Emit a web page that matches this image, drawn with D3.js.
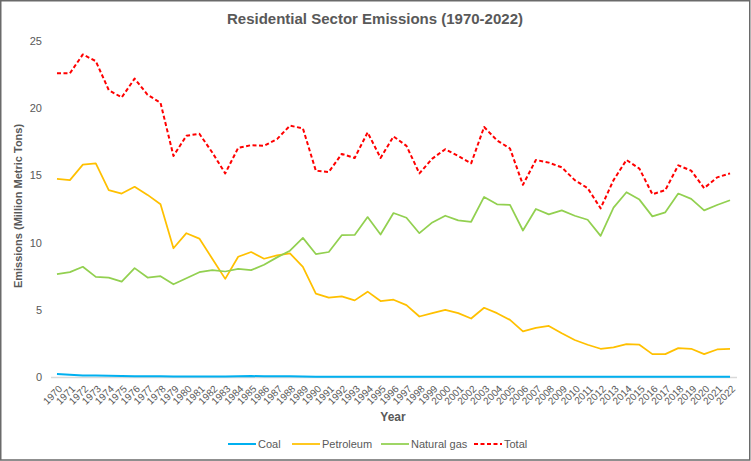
<!DOCTYPE html>
<html lang="en">
<head>
    <meta charset="UTF-8">
    <title>Residential Sector Emissions</title>
    <script src="https://d3js.org/d3.v7.min.js"></script>
    <style>
        body { margin: 0; background: #fff; }
        text { font-family: "Liberation Sans", Arial, Helvetica, sans-serif; fill: #595959; }
    </style>
</head>
<body>
<svg id="chart" width="751" height="461"></svg>
<script>
    const years = d3.range(1970, 2023);
    const coal = [0.22, 0.17, 0.12, 0.11, 0.09, 0.08, 0.06, 0.05, 0.05, 0.04, 0.04, 0.04, 0.04, 0.04, 0.05, 0.07, 0.05, 0.05, 0.05, 0.03,
        0.02, 0.02, 0.02, 0.02, 0.02, 0.02, 0.02, 0.02, 0.01, 0.01, 0.01, 0.01, 0.01, 0.01, 0.01, 0.01, 0.01, 0.01, 0.01, 0.01,
        0.01, 0.01, 0.01, 0.01, 0.01, 0.01, 0.01, 0.01, 0.01, 0.01, 0.01, 0.01, 0.01];
    const petroleum = [14.75, 14.65, 15.8, 15.9, 13.9, 13.65, 14.15, 13.55, 12.85, 9.58, 10.7, 10.3, 8.8, 7.3, 8.95, 9.3, 8.8, 9.05, 9.2, 8.2,
        6.2, 5.9, 6.0, 5.7, 6.35, 5.65, 5.75, 5.35, 4.5, 4.75, 5.0, 4.75, 4.35, 5.15, 4.75, 4.25, 3.4, 3.65, 3.8, 3.25,
        2.75, 2.4, 2.1, 2.2, 2.45, 2.4, 1.7, 1.7, 2.15, 2.1, 1.7, 2.05, 2.1];
    const naturalGas = [7.65, 7.8, 8.2, 7.45, 7.4, 7.1, 8.1, 7.4, 7.5, 6.9, 7.35, 7.8, 7.95, 7.85, 8.05, 7.95, 8.35, 8.9, 9.4, 10.35,
        9.15, 9.3, 10.55, 10.57, 11.9, 10.6, 12.2, 11.85, 10.7, 11.5, 12.0, 11.65, 11.55, 13.4, 12.85, 12.8, 10.9, 12.5, 12.1, 12.4,
        12.0, 11.7, 10.5, 12.6, 13.75, 13.2, 11.95, 12.25, 13.65, 13.25, 12.4, 12.8, 13.15];
    const total = [22.6, 22.6, 24.0, 23.5, 21.35, 20.8, 22.2, 21.0, 20.4, 16.45, 17.95, 18.1, 16.7, 15.15, 17.05, 17.25, 17.2, 17.7, 18.7, 18.5,
        15.35, 15.25, 16.6, 16.3, 18.2, 16.3, 17.9, 17.2, 15.15, 16.25, 16.95, 16.45, 15.9, 18.6, 17.6, 17.0, 14.3, 16.15, 15.95, 15.6,
        14.65, 14.05, 12.55, 14.65, 16.15, 15.5, 13.6, 13.9, 15.75, 15.35, 14.05, 14.85, 15.15];
    const yTicks = [0, 5, 10, 15, 20, 25];

    const series = [
        {name: 'Coal', values: coal, color: '#00B0F0', width: 2, dash: null},
        {name: 'Petroleum', values: petroleum, color: '#FFC000', width: 1.75, dash: null},
        {name: 'Natural gas', values: naturalGas, color: '#92D050', width: 1.75, dash: null},
        {name: 'Total', values: total, color: '#FF0000', width: 2, dash: '4,2.5'}
    ];

    const svg = d3.select('#chart');
    const W = 751, H = 461;

    // outer frame
    svg.append('rect')
        .attr('x', 0.75).attr('y', 0.75)
        .attr('width', W - 2).attr('height', H - 1.75)
        .attr('fill', '#fff')
        .attr('stroke', '#6a6a6a')
        .attr('stroke-width', 1.5);

    const x = d3.scalePoint().domain(years).range([50.5, 736.5]).padding(0.5);
    const y = d3.scaleLinear().domain([0, 25]).range([377, 41]);

    // title
    svg.append('text')
        .attr('x', 375).attr('y', 24)
        .attr('text-anchor', 'middle')
        .attr('font-size', 15)
        .attr('font-weight', 'bold')
        .text('Residential Sector Emissions (1970-2022)');

    // y axis
    const gy = svg.append('g').attr('transform', 'translate(42,0)')
        .call(d3.axisLeft(y).tickValues(yTicks).tickSize(0).tickPadding(0));
    gy.select('.domain').remove();
    gy.selectAll('text').attr('font-size', 11).attr('fill', '#595959').attr('font-family', null);

    svg.append('text')
        .attr('transform', 'translate(22,206) rotate(-90)')
        .attr('text-anchor', 'middle')
        .attr('font-size', 11)
        .attr('font-weight', 'bold')
        .text('Emissions (Million Metric Tons)');

    // x axis
    const gx = svg.append('g').attr('transform', `translate(0,${y(0)})`)
        .call(d3.axisBottom(x).tickSize(0));
    gx.select('.domain').attr('stroke', '#d9d9d9').attr('stroke-width', 1.5);
    gx.selectAll('text')
        .attr('font-size', 10)
        .attr('fill', '#595959')
        .attr('font-family', null)
        .attr('text-anchor', 'end')
        .attr('y', 0).attr('dy', '0.35em')
        .attr('transform', 'translate(3,10) rotate(-45)');

    svg.append('text')
        .attr('x', 393).attr('y', 421)
        .attr('text-anchor', 'middle')
        .attr('font-size', 12)
        .attr('font-weight', 'bold')
        .text('Year');

    // lines
    const line = d3.line().x((d, i) => x(years[i])).y(d => y(d));
    svg.append('g').selectAll('path')
        .data(series)
        .join('path')
        .attr('d', d => line(d.values))
        .attr('fill', 'none')
        .attr('stroke', d => d.color)
        .attr('stroke-width', d => d.width)
        .attr('stroke-dasharray', d => d.dash)
        .attr('stroke-linejoin', 'round');

    // legend
    const legendX = [228, 292, 381, 474];
    const leg = svg.append('g').selectAll('g')
        .data(series)
        .join('g')
        .attr('transform', (d, i) => `translate(${legendX[i]},444)`);
    leg.append('line')
        .attr('x1', 0).attr('x2', 28)
        .attr('stroke', d => d.color)
        .attr('stroke-width', d => d.width)
        .attr('stroke-dasharray', d => d.dash);
    leg.append('text')
        .attr('x', 30).attr('dy', '0.35em')
        .attr('font-size', 11)
        .text(d => d.name);
</script>
</body>
</html>
